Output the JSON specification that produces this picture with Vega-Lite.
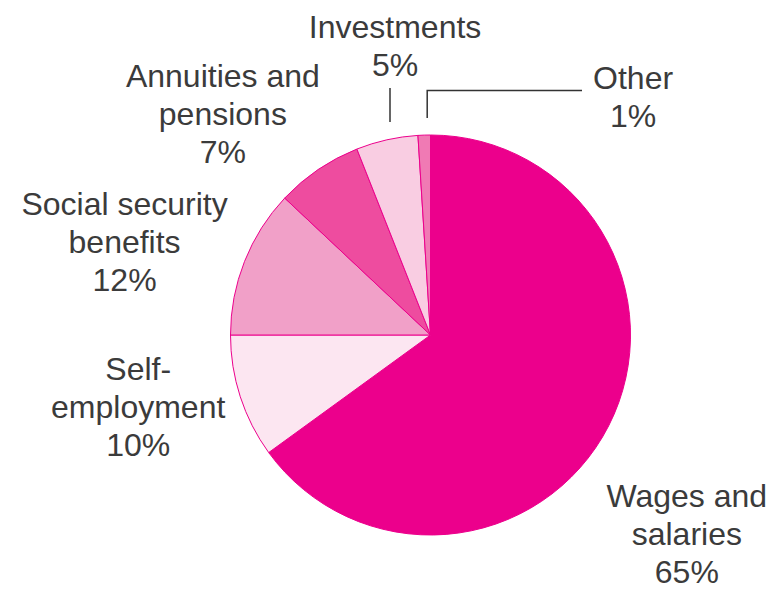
{
  "$schema": "https://vega.github.io/schema/vega-lite/v6.json",
  "width": 685,
  "height": 514,
  "autosize": {"type": "none"},
  "padding": {"left": 88, "top": 78, "right": 0, "bottom": 0},
  "background": "white",
  "config": {"view": {"stroke": null}},
  "datasets": {
    "shares": [
      {"category": "Wages and salaries", "share": 65, "rank": 1, "label": "Wages and\nsalaries\n65%"},
      {"category": "Self-employment", "share": 10, "rank": 2, "label": "Self-\nemployment\n10%"},
      {"category": "Social security benefits", "share": 12, "rank": 3, "label": "Social security\nbenefits\n12%"},
      {"category": "Annuities and pensions", "share": 7, "rank": 4, "label": "Annuities and\npensions\n7%"},
      {"category": "Investments", "share": 5, "rank": 5, "label": "Investments\n5%"},
      {"category": "Other", "share": 1, "rank": 6, "label": "Other\n1%"}
    ],
    "leaders": [
      {"leader": "Investments", "step": 1, "x": -0.2025, "y": 1.065},
      {"leader": "Investments", "step": 2, "x": -0.2025, "y": 1.235},
      {"leader": "Other", "step": 1, "x": -0.0165, "y": 1.085},
      {"leader": "Other", "step": 2, "x": -0.0165, "y": 1.222},
      {"leader": "Other", "step": 3, "x": 0.7575, "y": 1.222}
    ]
  },
  "layer": [
    {
      "data": {"name": "shares"},
      "mark": {"type": "arc", "outerRadius": 200, "stroke": "#EC008C", "strokeWidth": 1},
      "encoding": {
        "theta": {"field": "share", "type": "quantitative", "stack": true},
        "order": {"field": "rank", "type": "quantitative"},
        "color": {
          "field": "category",
          "type": "nominal",
          "scale": {
            "domain": ["Wages and salaries", "Self-employment", "Social security benefits", "Annuities and pensions", "Investments", "Other"],
            "range": ["#EC008C", "#FCE6F1", "#F1A0C8", "#EE4C9F", "#F9CDE2", "#F07AB4"]
          },
          "legend": null
        }
      }
    },
    {
      "data": {"name": "shares"},
      "mark": {
        "type": "text",
        "radius": 300,
        "font": "Liberation Sans",
        "fontSize": 32,
        "fill": "#3b3b3b",
        "align": "center",
        "baseline": "middle",
        "lineBreak": "\n",
        "lineHeight": 38,
        "dx": {"expr": "datum.category === 'Wages and salaries' ? -11 : datum.category === 'Self-employment' ? -7 : datum.category === 'Social security benefits' ? -27 : datum.category === 'Annuities and pensions' ? -39 : datum.category === 'Investments' ? 30 : 212"},
        "dy": {"expr": "datum.category === 'Wages and salaries' ? 26 : datum.category === 'Self-employment' ? -58 : datum.category === 'Social security benefits' ? -20 : datum.category === 'Annuities and pensions' ? -10 : datum.category === 'Investments' ? -14 : 44"}
      },
      "encoding": {
        "theta": {"field": "share", "type": "quantitative", "stack": true},
        "order": {"field": "rank", "type": "quantitative"},
        "text": {"field": "label", "type": "nominal"}
      }
    },
    {
      "data": {"name": "leaders"},
      "mark": {"type": "line", "stroke": "#333333", "strokeWidth": 1.5},
      "encoding": {
        "x": {"field": "x", "type": "quantitative", "scale": {"domain": [-1.7125, 1.7125], "nice": false, "zero": false}, "axis": null},
        "y": {"field": "y", "type": "quantitative", "scale": {"domain": [-1.285, 1.285], "nice": false, "zero": false}, "axis": null},
        "detail": {"field": "leader", "type": "nominal"},
        "order": {"field": "step", "type": "quantitative"}
      }
    }
  ]
}
